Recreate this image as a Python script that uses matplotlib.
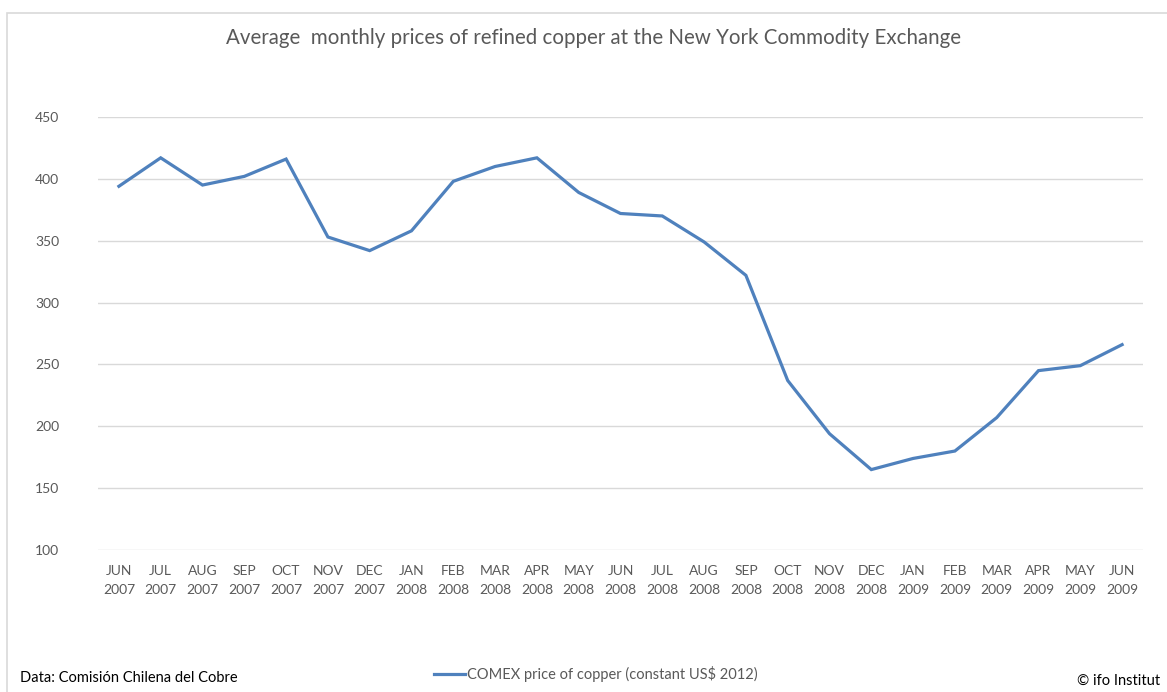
import matplotlib.pyplot as plt
from matplotlib.patches import Rectangle

plt.rcParams['font.family'] = ['Lato', 'DejaVu Sans']

# Datos
meses = ["JUN", "JUL", "AUG", "SEP", "OCT", "NOV", "DEC", "JAN", "FEB", "MAR", "APR", "MAY",
         "JUN", "JUL", "AUG", "SEP", "OCT", "NOV", "DEC", "JAN", "FEB", "MAR", "APR", "MAY", "JUN"]
anios = ["2007"] * 7 + ["2008"] * 12 + ["2009"] * 6
precios = [394, 417, 395, 402, 416, 353, 342, 358, 398, 410, 417, 389,
           372, 370, 349, 322, 237, 194, 165, 174, 180, 207, 245, 249, 266]

W, H = 1167, 692
fig = plt.figure(figsize=(W / 100, H / 100), dpi=100)

# marco gris alrededor del grafico
fig.patches.append(Rectangle((7 / W, -0.1), 1.2, 1.1 - 13 / H, transform=fig.transFigure,
                             fill=False, edgecolor="#d9d9d9", linewidth=1.2))

ax = fig.add_axes([98 / W, 1 - 550 / H, (1143 - 98) / W, (550 - 117) / H])
x = list(range(len(precios)))
linea, = ax.plot(x, precios, color="#4f81bd", linewidth=2.3, solid_joinstyle="miter")

ax.set_xlim(-0.5, len(precios) - 0.5)
ax.set_ylim(100, 450)
ax.set_yticks([100, 150, 200, 250, 300, 350, 400, 450])
ax.set_xticks(x)
ax.set_xticklabels([f"{m}\n{a}" for m, a in zip(meses, anios)], linespacing=1.65)
ax.tick_params(axis="both", length=0, labelsize=10, labelcolor="#595959")
ax.tick_params(axis="x", pad=11)
ax.tick_params(axis="y", pad=28)
ax.grid(axis="y", color="#d9d9d9", linewidth=1)
ax.set_axisbelow(True)
for s in ax.spines.values():
    s.set_visible(False)

fig.text(594 / W, 1 - 38 / H, "Average  monthly prices of refined copper at the New York Commodity Exchange",
         ha="center", va="center", fontsize=14.8, color="#595959")

fig.legend([linea], ["COMEX price of copper (constant US$ 2012)"], loc="center",
           bbox_to_anchor=(596 / W, 1 - 674 / H), frameon=False, fontsize=10.5,
           handlelength=2.1, handletextpad=0.15, labelcolor="#595959")

fig.text(20 / W, 1 - 678 / H, "Data: Comisión Chilena del Cobre", ha="left", va="center",
         fontsize=10.5, color="black")
fig.text(1160 / W, 1 - 681 / H, "© ifo Institut", ha="right", va="center",
         fontsize=10.5, color="black")

fig.savefig("out.png", dpi=100)
